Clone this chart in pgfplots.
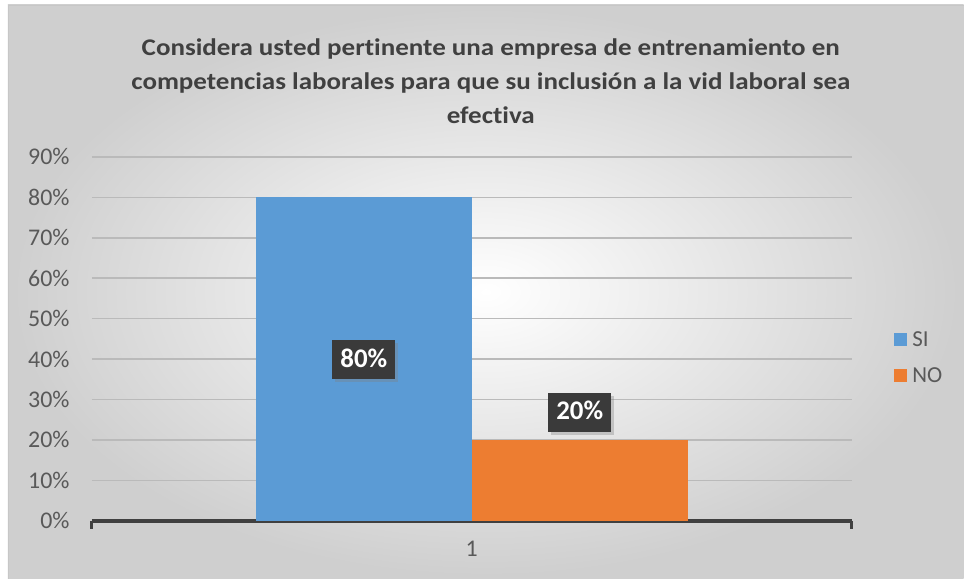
\documentclass[border=0pt]{standalone}
\usepackage{pgfplots}
\pgfplotsset{compat=1.18}
\usepackage{fontspec}
\setmainfont{Carlito}[RawFeature={-liga;-clig;-dlig;-calt}]
\usetikzlibrary{shadows}
\definecolor{si}{HTML}{5B9BD5}
\definecolor{no}{HTML}{ED7D31}
\definecolor{tit}{HTML}{404040}
\definecolor{tickc}{HTML}{595959}
\definecolor{labbg}{HTML}{3A3A3A}
\begin{document}
\begin{tikzpicture}
\fill[white] (-92bp,-58bp) rectangle (872bp,521bp);
\shade[inner color=white, outer color=black!19] (-84bp,-58bp) rectangle (872bp,516bp);
\draw[black!22, line width=0.8bp] (-84bp,-58bp) -- (-84bp,516bp) -- (872bp,516bp);
\begin{axis}[
  at={(0,0)}, anchor=south west,
  scale only axis, width=760bp, height=364bp,
  xmin=-0.5, xmax=0.5, ymin=0, ymax=90,
  ytick={0,10,...,90},
  yticklabel={\pgfmathprintnumber{\tick}\%},
  /pgf/number format/assume math mode=true,
  xtick={0}, xticklabels={1},
  axis x line*=bottom, axis y line*=left,
  x axis line style={draw=tit, line width=3.5bp, -},
  y axis line style={draw=none},
  xtick style={draw=none}, ytick style={draw=none},
  ymajorgrids, grid style={draw=black!27, line width=1.6bp},
  tick label style={font=\fontsize{24}{28}\selectfont, text=tickc},
  yticklabel style={xshift=-19bp},
  xticklabel style={yshift=-17bp},
  legend style={at={(1.052,0.448)}, anchor=west, draw=none, fill=none,
    font=\fontsize{23}{27}\selectfont, text=tickc, row sep=16bp,
    legend cell align=left, nodes={inner xsep=5bp}},
  legend image code/.code={\fill[#1] (0bp,-6.5bp) rectangle (13bp,6.5bp);},
  nodes near coords={\pgfmathprintnumber{\pgfplotspointmeta}\%},
  nodes near coords style={fill=labbg, text=white, font=\bfseries\fontsize{27}{30}\selectfont,
    inner xsep=8bp, inner ysep=0bp, text height=27bp, text depth=12bp, minimum height=39bp,
    drop shadow={opacity=0.35, shadow xshift=3bp, shadow yshift=-3bp}},
  clip=false,
]
\addplot[ybar, bar width=216bp, bar shift=-108bp, fill=si, draw=none,
  every node near coord/.append style={anchor=center, xshift=-108bp, yshift=-162.6bp}]
  coordinates {(0,80)};
\addlegendentry{SI}
\addplot[ybar, bar width=216bp, bar shift=108bp, fill=no, draw=none,
  every node near coord/.append style={anchor=center, xshift=108bp, yshift=27.6bp}]
  coordinates {(0,20)};
\addlegendentry{NO}
\draw[tit, line width=3bp] (axis cs:-0.5,0) -- ([yshift=-8bp]axis cs:-0.5,0);
\draw[tit, line width=3bp] (axis cs:0.5,0) -- ([yshift=-8bp]axis cs:0.5,0);
\end{axis}
\node[text=tit, font=\bfseries\fontsize{24}{34}\selectfont] at (399bp,438bp)
  {\scalebox{1.13}[1]{\begin{tabular}{@{}c@{}}Considera usted pertinente una empresa de entrenamiento en\\competencias laborales para que su inclusión a la vid laboral sea\\efectiva\end{tabular}}};
\end{tikzpicture}
\end{document}
